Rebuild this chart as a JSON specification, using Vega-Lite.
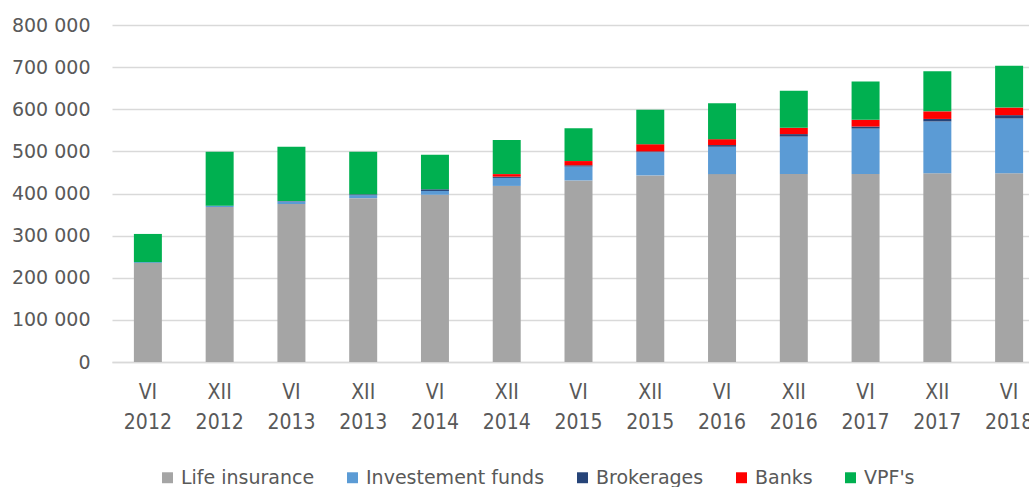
{
  "$schema": "https://vega.github.io/schema/vega-lite/v6.json",
  "autosize": "none",
  "width": 917,
  "height": 337,
  "padding": {"left": 112, "top": 25, "right": 0, "bottom": 125},
  "background": "white",
  "config": {
    "font": "DejaVu Sans",
    "view": {"stroke": null},
    "axis": {"labelColor": "#595959", "labelFontSize": 19, "titleColor": "#595959"},
    "legend": {"labelColor": "#595959", "labelFontSize": 19}
  },
  "data": {
    "values": [
      {"period": "VI 2012", "idx": 1, "sector": "Life insurance", "o": 1, "value": 235000},
      {"period": "VI 2012", "idx": 1, "sector": "Investement funds", "o": 2, "value": 2000},
      {"period": "VI 2012", "idx": 1, "sector": "Brokerages", "o": 3, "value": 0},
      {"period": "VI 2012", "idx": 1, "sector": "Banks", "o": 4, "value": 0},
      {"period": "VI 2012", "idx": 1, "sector": "VPF's", "o": 5, "value": 67000},
      {"period": "XII 2012", "idx": 2, "sector": "Life insurance", "o": 1, "value": 368000},
      {"period": "XII 2012", "idx": 2, "sector": "Investement funds", "o": 2, "value": 3000},
      {"period": "XII 2012", "idx": 2, "sector": "Brokerages", "o": 3, "value": 0},
      {"period": "XII 2012", "idx": 2, "sector": "Banks", "o": 4, "value": 0},
      {"period": "XII 2012", "idx": 2, "sector": "VPF's", "o": 5, "value": 128000},
      {"period": "VI 2013", "idx": 3, "sector": "Life insurance", "o": 1, "value": 375000},
      {"period": "VI 2013", "idx": 3, "sector": "Investement funds", "o": 2, "value": 6000},
      {"period": "VI 2013", "idx": 3, "sector": "Brokerages", "o": 3, "value": 1000},
      {"period": "VI 2013", "idx": 3, "sector": "Banks", "o": 4, "value": 0},
      {"period": "VI 2013", "idx": 3, "sector": "VPF's", "o": 5, "value": 129000},
      {"period": "XII 2013", "idx": 4, "sector": "Life insurance", "o": 1, "value": 389000},
      {"period": "XII 2013", "idx": 4, "sector": "Investement funds", "o": 2, "value": 7000},
      {"period": "XII 2013", "idx": 4, "sector": "Brokerages", "o": 3, "value": 2000},
      {"period": "XII 2013", "idx": 4, "sector": "Banks", "o": 4, "value": 0},
      {"period": "XII 2013", "idx": 4, "sector": "VPF's", "o": 5, "value": 101000},
      {"period": "VI 2014", "idx": 5, "sector": "Life insurance", "o": 1, "value": 397000},
      {"period": "VI 2014", "idx": 5, "sector": "Investement funds", "o": 2, "value": 9000},
      {"period": "VI 2014", "idx": 5, "sector": "Brokerages", "o": 3, "value": 4000},
      {"period": "VI 2014", "idx": 5, "sector": "Banks", "o": 4, "value": 0},
      {"period": "VI 2014", "idx": 5, "sector": "VPF's", "o": 5, "value": 82000},
      {"period": "XII 2014", "idx": 6, "sector": "Life insurance", "o": 1, "value": 418000},
      {"period": "XII 2014", "idx": 6, "sector": "Investement funds", "o": 2, "value": 19000},
      {"period": "XII 2014", "idx": 6, "sector": "Brokerages", "o": 3, "value": 3000},
      {"period": "XII 2014", "idx": 6, "sector": "Banks", "o": 4, "value": 6000},
      {"period": "XII 2014", "idx": 6, "sector": "VPF's", "o": 5, "value": 81000},
      {"period": "VI 2015", "idx": 7, "sector": "Life insurance", "o": 1, "value": 431000},
      {"period": "VI 2015", "idx": 7, "sector": "Investement funds", "o": 2, "value": 33000},
      {"period": "VI 2015", "idx": 7, "sector": "Brokerages", "o": 3, "value": 3000},
      {"period": "VI 2015", "idx": 7, "sector": "Banks", "o": 4, "value": 10000},
      {"period": "VI 2015", "idx": 7, "sector": "VPF's", "o": 5, "value": 78000},
      {"period": "XII 2015", "idx": 8, "sector": "Life insurance", "o": 1, "value": 443000},
      {"period": "XII 2015", "idx": 8, "sector": "Investement funds", "o": 2, "value": 55000},
      {"period": "XII 2015", "idx": 8, "sector": "Brokerages", "o": 3, "value": 2000},
      {"period": "XII 2015", "idx": 8, "sector": "Banks", "o": 4, "value": 17000},
      {"period": "XII 2015", "idx": 8, "sector": "VPF's", "o": 5, "value": 82000},
      {"period": "VI 2016", "idx": 9, "sector": "Life insurance", "o": 1, "value": 446000},
      {"period": "VI 2016", "idx": 9, "sector": "Investement funds", "o": 2, "value": 65000},
      {"period": "VI 2016", "idx": 9, "sector": "Brokerages", "o": 3, "value": 4000},
      {"period": "VI 2016", "idx": 9, "sector": "Banks", "o": 4, "value": 14000},
      {"period": "VI 2016", "idx": 9, "sector": "VPF's", "o": 5, "value": 85000},
      {"period": "XII 2016", "idx": 10, "sector": "Life insurance", "o": 1, "value": 446000},
      {"period": "XII 2016", "idx": 10, "sector": "Investement funds", "o": 2, "value": 89000},
      {"period": "XII 2016", "idx": 10, "sector": "Brokerages", "o": 3, "value": 6000},
      {"period": "XII 2016", "idx": 10, "sector": "Banks", "o": 4, "value": 15000},
      {"period": "XII 2016", "idx": 10, "sector": "VPF's", "o": 5, "value": 88000},
      {"period": "VI 2017", "idx": 11, "sector": "Life insurance", "o": 1, "value": 446000},
      {"period": "VI 2017", "idx": 11, "sector": "Investement funds", "o": 2, "value": 108000},
      {"period": "VI 2017", "idx": 11, "sector": "Brokerages", "o": 3, "value": 5000},
      {"period": "VI 2017", "idx": 11, "sector": "Banks", "o": 4, "value": 16000},
      {"period": "VI 2017", "idx": 11, "sector": "VPF's", "o": 5, "value": 91000},
      {"period": "XII 2017", "idx": 12, "sector": "Life insurance", "o": 1, "value": 448000},
      {"period": "XII 2017", "idx": 12, "sector": "Investement funds", "o": 2, "value": 123000},
      {"period": "XII 2017", "idx": 12, "sector": "Brokerages", "o": 3, "value": 6000},
      {"period": "XII 2017", "idx": 12, "sector": "Banks", "o": 4, "value": 18000},
      {"period": "XII 2017", "idx": 12, "sector": "VPF's", "o": 5, "value": 95000},
      {"period": "VI 2018", "idx": 13, "sector": "Life insurance", "o": 1, "value": 448000},
      {"period": "VI 2018", "idx": 13, "sector": "Investement funds", "o": 2, "value": 130000},
      {"period": "VI 2018", "idx": 13, "sector": "Brokerages", "o": 3, "value": 8000},
      {"period": "VI 2018", "idx": 13, "sector": "Banks", "o": 4, "value": 18000},
      {"period": "VI 2018", "idx": 13, "sector": "VPF's", "o": 5, "value": 99000}
    ]
  },
  "mark": {"type": "bar"},
  "encoding": {
    "x": {
      "field": "period",
      "type": "nominal",
      "sort": {"field": "idx"},
      "scale": {"range": [0, 933], "paddingInner": 0.61, "paddingOuter": 0.305},
      "axis": {
        "title": null,
        "labelAngle": 0,
        "labelFont": "DejaVu Sans Condensed, Liberation Sans",
        "labelFontSize": 21,
        "labelExpr": "split(datum.label, ' ')",
        "labelLineHeight": 30,
        "labelPadding": 19,
        "labelBaseline": "top",
        "ticks": false,
        "domainColor": "#d9d9d9",
        "domainWidth": 1.5,
        "grid": false
      }
    },
    "y": {
      "field": "value",
      "type": "quantitative",
      "aggregate": "sum",
      "stack": "zero",
      "scale": {"domain": [0, 800000]},
      "axis": {
        "title": null,
        "values": [0, 100000, 200000, 300000, 400000, 500000, 600000, 700000, 800000],
        "labelExpr": "replace(format(datum.value, ','), /,/g, ' ')",
        "labelPadding": 22,
        "ticks": false,
        "domain": false,
        "gridColor": "#d9d9d9",
        "gridWidth": 1.5
      }
    },
    "color": {
      "field": "sector",
      "type": "nominal",
      "scale": {
        "domain": ["Life insurance", "Investement funds", "Brokerages", "Banks", "VPF's"],
        "range": ["#A5A5A5", "#5B9BD5", "#264478", "#FF0000", "#00B050"]
      },
      "legend": {
        "title": null,
        "orient": "none",
        "direction": "horizontal",
        "legendX": 46,
        "legendY": 443,
        "symbolType": "square",
        "symbolSize": 120,
        "symbolStrokeWidth": 0,
        "labelOffset": 4,
        "labelLimit": 400,
        "columnPadding": 28
      }
    },
    "order": {"field": "o", "type": "quantitative"}
  }
}
